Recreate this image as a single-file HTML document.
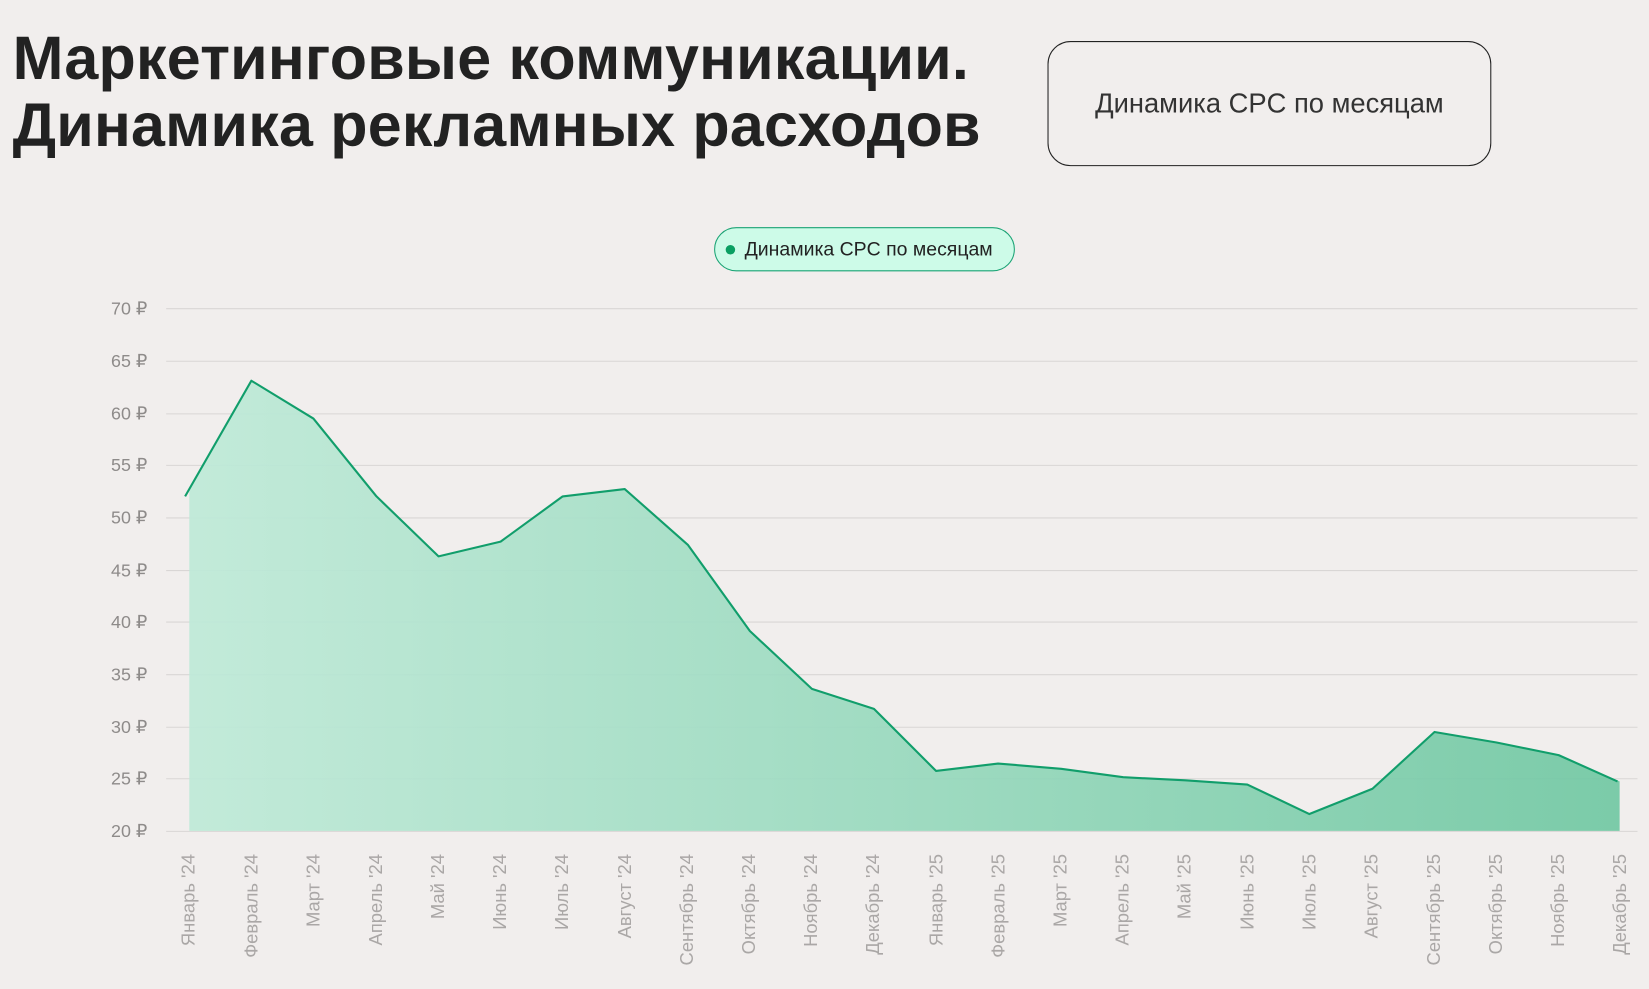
<!DOCTYPE html>
<html><head><meta charset="utf-8"><style>
body{margin:0;width:1649px;height:989px;background:#f1eeed;overflow:hidden;font-family:"Liberation Sans",sans-serif;position:relative}
#w{position:absolute;left:0;top:0;width:1568px;height:940px;transform:scale(1.0517);transform-origin:0 0}
h1{position:absolute;left:12px;top:24px;margin:0;font-size:58px;line-height:64px;font-weight:bold;color:#222;letter-spacing:0.2px;white-space:nowrap}
.box{position:absolute;left:996px;top:39px;width:422px;height:119px;border:1px solid #222;border-radius:22px;box-sizing:border-box;display:flex;align-items:center;justify-content:center;font-size:26px;color:#333}
.leg{position:absolute;left:679px;top:216px;width:286px;height:42px;border:1.5px solid #1aa374;background:#cdfbe8;border-radius:21px;box-sizing:border-box;font-size:18.5px;color:#222;display:flex;align-items:center;padding-left:10px;white-space:nowrap}
.leg i{width:9px;height:9px;border-radius:50%;background:#0a9f62;margin-right:9px;display:inline-block}
</style></head><body><div id="w">
<h1>Маркетинговые коммуникации.<br>Динамика рекламных расходов</h1>
<div class="box">Динамика CPC по месяцам</div>
<div class="leg"><i></i>Динамика CPC по месяцам</div>
<svg width="1568" height="940" style="position:absolute;left:0;top:0">
<defs><linearGradient id="g" x1="0" x2="1" y1="0" y2="0"><stop offset="0" stop-color="#bfe9d8"/><stop offset="1" stop-color="#74c8a5"/></linearGradient></defs>
<g stroke="#d9d6d5" stroke-width="1">
<line x1="158" x2="1557" y1="293.5" y2="293.5"/><line x1="158" x2="1557" y1="343.5" y2="343.5"/><line x1="158" x2="1557" y1="393.5" y2="393.5"/><line x1="158" x2="1557" y1="442.5" y2="442.5"/><line x1="158" x2="1557" y1="492.5" y2="492.5"/><line x1="158" x2="1557" y1="542.5" y2="542.5"/><line x1="158" x2="1557" y1="591.5" y2="591.5"/><line x1="158" x2="1557" y1="641.5" y2="641.5"/><line x1="158" x2="1557" y1="691.5" y2="691.5"/><line x1="158" x2="1557" y1="740.5" y2="740.5"/><line x1="158" x2="1557" y1="790.5" y2="790.5"/>
</g>
<g font-size="17" fill="#8e8b8a" text-anchor="end">
<text x="140" y="299">70 ₽</text><text x="140" y="349">65 ₽</text><text x="140" y="399">60 ₽</text><text x="140" y="448">55 ₽</text><text x="140" y="498">50 ₽</text><text x="140" y="548">45 ₽</text><text x="140" y="597">40 ₽</text><text x="140" y="647">35 ₽</text><text x="140" y="697">30 ₽</text><text x="140" y="746">25 ₽</text><text x="140" y="796">20 ₽</text>
</g>
<polygon fill="url(#g)" opacity="0.95" points="180,465 239,362 298,398 358,472 417,529 476,515 535,472 594,465 654,518 713,600 772,655 831,674 890,733 949,726 1009,731 1068,739 1127,742 1186,746 1245,774 1305,750 1364,696 1423,706 1482,718 1540,743 1540,790 180,790"/>
<polyline fill="none" stroke="#119e6b" stroke-width="2" stroke-linejoin="round" points="176,472 239,362 298,398 358,472 417,529 476,515 535,472 594,465 654,518 713,600 772,655 831,674 890,733 949,726 1009,731 1068,739 1127,742 1186,746 1245,774 1305,750 1364,696 1423,706 1482,718 1538,743"/>
<g font-size="17.5" fill="#aaa7a6" text-anchor="end">
<text transform="translate(185,812) rotate(-90)">Январь '24</text>
<text transform="translate(245,812) rotate(-90)">Февраль '24</text>
<text transform="translate(304,812) rotate(-90)">Март '24</text>
<text transform="translate(363,812) rotate(-90)">Апрель '24</text>
<text transform="translate(422,812) rotate(-90)">Май '24</text>
<text transform="translate(481,812) rotate(-90)">Июнь '24</text>
<text transform="translate(540,812) rotate(-90)">Июль '24</text>
<text transform="translate(600,812) rotate(-90)">Август '24</text>
<text transform="translate(659,812) rotate(-90)">Сентябрь '24</text>
<text transform="translate(718,812) rotate(-90)">Октябрь '24</text>
<text transform="translate(777,812) rotate(-90)">Ноябрь '24</text>
<text transform="translate(836,812) rotate(-90)">Декабрь '24</text>
<text transform="translate(896,812) rotate(-90)">Январь '25</text>
<text transform="translate(955,812) rotate(-90)">Февраль '25</text>
<text transform="translate(1014,812) rotate(-90)">Март '25</text>
<text transform="translate(1073,812) rotate(-90)">Апрель '25</text>
<text transform="translate(1132,812) rotate(-90)">Май '25</text>
<text transform="translate(1192,812) rotate(-90)">Июнь '25</text>
<text transform="translate(1251,812) rotate(-90)">Июль '25</text>
<text transform="translate(1310,812) rotate(-90)">Август '25</text>
<text transform="translate(1369,812) rotate(-90)">Сентябрь '25</text>
<text transform="translate(1428,812) rotate(-90)">Октябрь '25</text>
<text transform="translate(1487,812) rotate(-90)">Ноябрь '25</text>
<text transform="translate(1546,812) rotate(-90)">Декабрь '25</text>
</g>
</svg>
</div></body></html>
